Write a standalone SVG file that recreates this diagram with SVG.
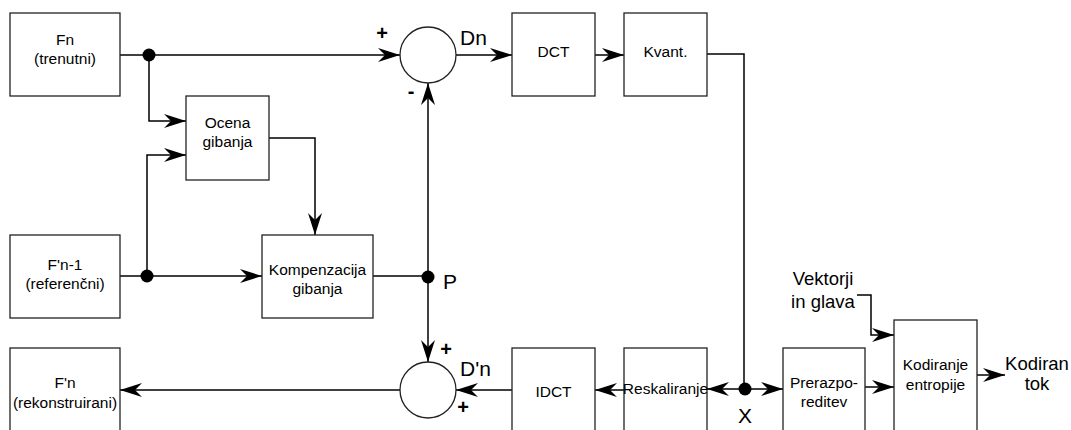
<svg xmlns="http://www.w3.org/2000/svg" width="1071" height="430" viewBox="0 0 1071 430">
<defs>
<style>
.box{fill:#fff;stroke:#222;stroke-width:1.3}
.ln{fill:none;stroke:#000;stroke-width:1.5}
.t{font-family:"Liberation Sans",Arial,sans-serif;font-size:15.5px;fill:#000;text-anchor:middle}
.l{font-family:"Liberation Sans",Arial,sans-serif;font-size:18.5px;fill:#000}
.b{font-family:"Liberation Sans",Arial,sans-serif;font-size:21px;fill:#000}
.s{font-family:"Liberation Sans",Arial,sans-serif;font-size:20px;font-weight:bold;fill:#000;text-anchor:middle}
.dot{fill:#000}
</style>
<marker id="ah" viewBox="0 0 22 16" refX="22" refY="8" markerWidth="22" markerHeight="16" markerUnits="userSpaceOnUse" orient="auto">
<path d="M0,1 L22,8 L0,15 L7,8 Z" fill="#000"/>
</marker>
</defs>
<g id="connectors">
<path class="ln" d="M120,55 H400" marker-end="url(#ah)"/>
<path class="ln" d="M149,55 V121 H186" marker-end="url(#ah)"/>
<path class="ln" d="M120,276 H262" marker-end="url(#ah)"/>
<path class="ln" d="M147,276 V155 H186" marker-end="url(#ah)"/>
<path class="ln" d="M269,138 H315 V235" marker-end="url(#ah)"/>
<path class="ln" d="M373,276 H428"/>
<path class="ln" d="M428,276 V83" marker-end="url(#ah)"/>
<path class="ln" d="M428,276 V362" marker-end="url(#ah)"/>
<path class="ln" d="M456,55 H512" marker-end="url(#ah)"/>
<path class="ln" d="M595,55 H624" marker-end="url(#ah)"/>
<path class="ln" d="M707,54 H744 V389"/>
<path class="ln" d="M744,389 H707" marker-end="url(#ah)"/>
<path class="ln" d="M744,389 H783" marker-end="url(#ah)"/>
<path class="ln" d="M624,390 H595" marker-end="url(#ah)"/>
<path class="ln" d="M512,390 H456" marker-end="url(#ah)"/>
<path class="ln" d="M400,390 H120" marker-end="url(#ah)"/>
<path class="ln" d="M865,387 H894" marker-end="url(#ah)"/>
<path class="ln" d="M977,375 H1005" marker-end="url(#ah)"/>
<path class="ln" d="M857,295 H871 V335 H894" marker-end="url(#ah)"/>
<circle class="dot" cx="149" cy="55" r="6.5"/>
<circle class="dot" cx="147" cy="276" r="6.5"/>
<circle class="dot" cx="428" cy="277" r="6.5"/>
<circle class="dot" cx="745" cy="389" r="6.5"/>
</g>
<g id="fn"><rect class="box" x="10" y="13" width="110" height="83"/><text class="t" x="65" y="45">Fn</text><text class="t" x="65" y="64">(trenutni)</text></g>
<g id="ocena"><rect class="box" x="186" y="96" width="83" height="84"/><text class="t" x="227.5" y="128">Ocena</text><text class="t" x="227.5" y="147">gibanja</text></g>
<g id="fn1"><rect class="box" x="10" y="235" width="110" height="83"/><text class="t" x="65" y="270">F'n-1</text><text class="t" x="65" y="289">(referenčni)</text></g>
<g id="komp"><rect class="box" x="262" y="235" width="111" height="83"/><text class="t" x="317.5" y="275">Kompenzacija</text><text class="t" x="317.5" y="294">gibanja</text></g>
<g id="sum1"><circle class="box" cx="428" cy="55" r="28"/><text class="s" x="382" y="40">+</text><text class="s" x="411" y="98">-</text><text class="b" x="460" y="45">Dn</text></g>
<g id="dct"><rect class="box" x="512" y="13" width="83" height="83"/><text class="t" x="553.5" y="57">DCT</text></g>
<g id="kvant"><rect class="box" x="624" y="13" width="83" height="83"/><text class="t" x="665.5" y="57">Kvant.</text></g>
<g id="plabel"><text class="b" x="443" y="289">P</text></g>
<g id="sum2"><circle class="box" cx="428" cy="390" r="28"/><text class="s" x="446" y="356">+</text><text class="s" x="463" y="414">+</text><text class="b" x="460" y="376">D'n</text></g>
<g id="fnrek"><rect class="box" x="10" y="348" width="110" height="95"/><text class="t" x="65" y="388">F'n</text><text class="t" x="65" y="408">(rekonstruirani)</text></g>
<g id="idct"><rect class="box" x="512" y="348" width="83" height="95"/><text class="t" x="553.5" y="397">IDCT</text></g>
<g id="resk"><rect class="box" x="624" y="348" width="83" height="95"/><text class="t" x="665.5" y="394">Reskaliranje</text></g>
<g id="xlabel"><text class="b" x="745" y="423" text-anchor="middle">X</text></g>
<g id="prer"><rect class="box" x="783" y="348" width="82" height="95"/><text class="t" x="824" y="388">Prerazpo-</text><text class="t" x="824" y="407">reditev</text></g>
<g id="kod"><rect class="box" x="894" y="320" width="83" height="123"/><text class="t" x="935.5" y="370">Kodiranje</text><text class="t" x="935.5" y="390">entropije</text></g>
<g id="vekt"><text class="l" x="823" y="285" text-anchor="middle">Vektorji</text><text class="l" x="823" y="308" text-anchor="middle">in glava</text></g>
<g id="out"><text class="l" x="1037" y="370" text-anchor="middle">Kodiran</text><text class="l" x="1037" y="390" text-anchor="middle">tok</text></g>
</svg>
